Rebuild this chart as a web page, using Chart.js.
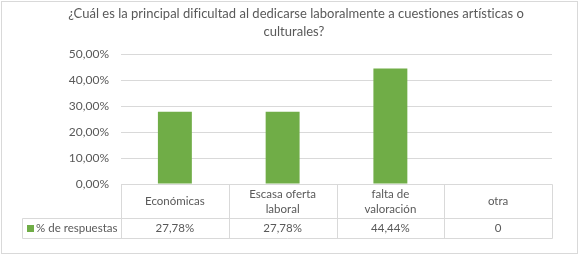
<!DOCTYPE html>
<html>
<head>
<meta charset="utf-8">
<script src="https://cdn.jsdelivr.net/npm/chart.js@4.4.0/dist/chart.umd.min.js"></script>
<style>
    html, body { margin: 0; padding: 0; background: #fff; }
    #wrap { width: 580px; height: 256px; }
</style>
</head>
<body>
<div id="wrap"><canvas id="chart" width="580" height="256"></canvas></div>
<script>
var titleLines = ['¿Cuál es la principal dificultad al dedicarse laboralmente a cuestiones artísticas o', 'culturales?'];
var categories = [['Económicas'], ['Escasa oferta', 'laboral'], ['falta de', 'valoración'], ['otra']];
var seriesName = '% de respuestas';
var respuestas = [27.78, 27.78, 44.44, 0];
var tableValues = ['27,78%', '27,78%', '44,44%', '0'];
var yMin = 0, yMax = 50, yStep = 10;

var textColor = '#595959';
var lineColor = '#d9d9d9';
var barColor = '#70ad47';
var fontFamily = 'Lato, "Noto Sans", sans-serif';

// marco, titulo y tabla de datos
var excelTable = {
    id: 'excelTable',
    beforeDraw: function (chart) {
        var ctx = chart.ctx;
        ctx.save();
        ctx.fillStyle = '#fff';
        ctx.fillRect(0, 0, chart.width, chart.height);
        ctx.strokeStyle = lineColor;
        ctx.lineWidth = 1;
        ctx.strokeRect(1.5, 1.5, chart.width - 4, chart.height - 4);
        ctx.restore();
    },
    afterDraw: function (chart) {
        var ctx = chart.ctx, area = chart.chartArea, x = chart.scales.x;
        var half = (x.getPixelForValue(1) - x.getPixelForValue(0)) / 2;
        var top = Math.round(area.bottom) + 0.5, mid = top + 34, bottom = mid + 20;
        var legLeft = 22.5;
        var edges = [];
        for (var i = 0; i < categories.length; i++) {
            edges.push(Math.round(x.getPixelForValue(i) - half) + 0.5);
        }
        edges.push(Math.round(x.getPixelForValue(categories.length - 1) + half) + 0.5);

        ctx.save();
        if ('letterSpacing' in ctx) ctx.letterSpacing = '0.01px';
        // titulo
        ctx.fillStyle = textColor;
        ctx.font = '13px ' + fontFamily;
        ctx.textAlign = 'center';
        ctx.textBaseline = 'middle';
        ctx.fillText(titleLines[0], 296, 14);
        ctx.fillText(titleLines[1], 294, 32);

        // lineas
        ctx.strokeStyle = lineColor;
        ctx.lineWidth = 1;
        ctx.beginPath();
        ctx.moveTo(edges[0], top); ctx.lineTo(edges[edges.length - 1], top);
        ctx.moveTo(legLeft, mid); ctx.lineTo(edges[edges.length - 1], mid);
        ctx.moveTo(legLeft, bottom); ctx.lineTo(edges[edges.length - 1], bottom);
        ctx.moveTo(legLeft, mid); ctx.lineTo(legLeft, bottom);
        edges.forEach(function (ex) {
            ctx.moveTo(ex, top); ctx.lineTo(ex, bottom);
        });
        ctx.stroke();

        // textos
        ctx.font = '11.5px ' + fontFamily;
        ctx.fillStyle = textColor;
        categories.forEach(function (lines, i) {
            var cx = x.getPixelForValue(i);
            var cy = (top + mid) / 2 - (lines.length - 1) * 7.5;
            lines.forEach(function (l, k) {
                ctx.fillText(l, cx, cy + k * 15);
            });
            ctx.fillText(tableValues[i], cx, (mid + bottom) / 2);
        });

        // leyenda
        ctx.fillStyle = barColor;
        ctx.fillRect(27, 225, 7, 7);
        ctx.fillStyle = textColor;
        ctx.textAlign = 'left';
        ctx.fillText(seriesName, 36, (mid + bottom) / 2);
        ctx.restore();
    }
};

new Chart(document.getElementById('chart').getContext('2d'), {
    type: 'bar',
    data: {
        labels: categories,
        datasets: [{
            label: seriesName,
            data: respuestas,
            backgroundColor: barColor,
            barPercentage: 0.315,
            categoryPercentage: 1
        }]
    },
    options: {
        responsive: false,
        animation: false,
        layout: {padding: {top: 54, right: 28, bottom: 72, left: 0}},
        scales: {
            x: {display: false},
            y: {
                min: yMin,
                max: yMax,
                ticks: {
                    stepSize: yStep,
                    padding: 12,
                    color: textColor,
                    font: {family: fontFamily, size: 12},
                    callback: function (v) { return v.toFixed(2).replace('.', ',') + '%'; }
                },
                grid: {color: lineColor, drawTicks: false},
                border: {display: false},
                afterFit: function (scale) { scale.width = 121; }
            }
        },
        plugins: {
            legend: {display: false},
            tooltip: {enabled: false}
        }
    },
    plugins: [excelTable]
});
</script>
</body>
</html>
